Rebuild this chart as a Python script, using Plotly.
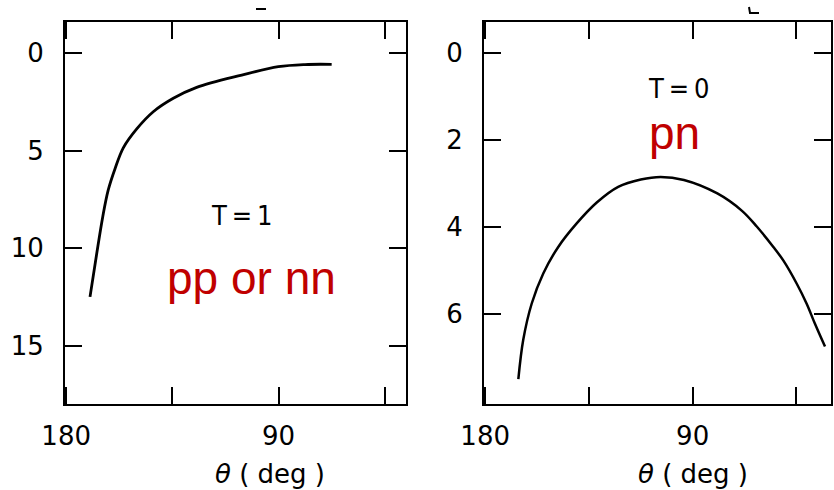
import plotly.graph_objects as go

# Left panel: isospin T = 1 (pp or nn)
theta_t1 = [169.9, 167.2, 164.5, 162.2, 159.3, 155.8, 150.1, 143.1, 134.6, 124.7,
            105.6, 90.1, 78.8, 67.5]
val_t1 = [12.49, 10.38, 8.38, 7.02, 5.92, 4.85, 3.88, 3.00, 2.31, 1.75,
          1.12, 0.69, 0.58, 0.57]

# Right panel: isospin T = 0 (pn)
theta_t0 = [165.6, 163.5, 159.8, 154.8, 148.3, 140.3, 131.6, 122.3, 112.5, 103.9,
            93.8, 79.3, 68.6, 62.2, 55.0, 50.7, 44.9, 40.6, 37.0, 32.6]
val_t0 = [7.50, 6.60, 5.76, 5.07, 4.46, 3.92, 3.44, 3.08, 2.91, 2.85,
          2.92, 3.23, 3.63, 3.99, 4.46, 4.77, 5.30, 5.76, 6.22, 6.75]

x_tickvals = [180, 135, 90, 45]
x_ticktext = ["180", "", "90", ""]
y_ticks_t1 = [0, 5, 10, 15]
y_ticks_t0 = [0, 2, 4, 6]

W, H = 834, 490
TICK_FONT = dict(family="DejaVu Sans", size=26, color="black")

fig = go.Figure()
fig.add_trace(go.Scatter(x=theta_t1, y=val_t1, mode="lines",
                         line=dict(color="black", width=2.8, shape="spline", smoothing=1.0),
                         xaxis="x", yaxis="y", showlegend=False, hoverinfo="skip"))
fig.add_trace(go.Scatter(x=theta_t0, y=val_t0, mode="lines",
                         line=dict(color="black", width=2.5, shape="spline", smoothing=1.0),
                         xaxis="x2", yaxis="y2", showlegend=False, hoverinfo="skip"))


def xaxis(domain, rng, anchor):
    return dict(domain=domain, range=rng, anchor=anchor, tickmode="array",
                tickvals=x_tickvals, ticktext=x_ticktext, ticks="inside", ticklen=17,
                tickwidth=2, tickcolor="black", showline=True, linecolor="black", linewidth=2,
                mirror="ticks", showgrid=False, zeroline=False, tickfont=TICK_FONT,
                ticklabelstandoff=8, automargin=False)


def yaxis(domain, rng, anchor, ticks):
    return dict(domain=domain, range=rng, anchor=anchor, tickmode="array",
                tickvals=ticks, ticktext=[str(t) for t in ticks], ticks="inside", ticklen=17,
                tickwidth=2, tickcolor="black", showline=True, linecolor="black", linewidth=2,
                mirror="ticks", showgrid=False, zeroline=False, tickfont=TICK_FONT,
                ticklabelstandoff=14, automargin=False)


ydom = [1 - 404 / H, 1 - 22 / H]
fig.update_layout(
    width=W, height=H,
    margin=dict(l=0, r=0, t=0, b=0, autoexpand=False),
    paper_bgcolor="white", plot_bgcolor="white",
    xaxis=xaxis([65 / W, 406 / W], [180.5, 36], "y"),
    yaxis=yaxis(ydom, [17.98, -1.6], "x", y_ticks_t1),
    xaxis2=xaxis([484 / W, 831 / W], [180.5, 30], "y2"),
    yaxis2=yaxis(ydom, [8.07, -0.71], "x2", y_ticks_t0),
)

label_font = dict(family="DejaVu Sans Condensed, DejaVu Sans", size=27, color="black")
red_font = dict(family="Liberation Sans, Arial", size=46, color="#c00000")
title_font = dict(family="DejaVu Sans", size=26, color="black")

annotations = [
    dict(text="T\u2009=\u20091", x=242 / W, y=1 - 216 / H, font=label_font),
    dict(text="pp or nn", x=251 / W, y=1 - 278 / H, font=red_font),
    dict(text="T\u2009=\u20090", x=678 / W, y=1 - 89 / H, font=label_font),
    dict(text="pn", x=674 / W, y=1 - 133 / H, font=red_font),
    dict(text="<i>θ</i> ( deg )", x=270 / W, y=1 - 474 / H, font=title_font),
    dict(text="<i>θ</i> ( deg )", x=693 / W, y=1 - 474 / H, font=title_font),
]
for a in annotations:
    fig.add_annotation(xref="paper", yref="paper", showarrow=False,
                       xanchor="center", yanchor="middle", **a)

# small clipped marks above the frames
fig.add_shape(type="line", xref="paper", yref="paper", x0=256 / W, x1=266 / W,
              y0=1 - 9 / H, y1=1 - 9 / H, line=dict(color="black", width=2))
fig.add_shape(type="path", xref="paper", yref="paper",
              path=f"M {749/W},{1-7/H} L {750/W},{1-13/H} L {759/W},{1-13/H}",
              line=dict(color="black", width=2))

fig.write_html("out.html")
